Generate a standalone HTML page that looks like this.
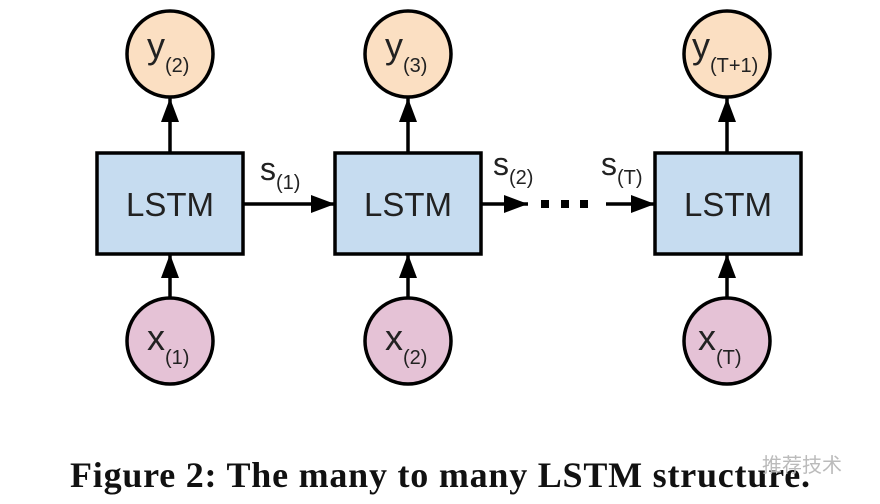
<!DOCTYPE html>
<html><head><meta charset="utf-8"><style>
html,body{margin:0;padding:0;background:#fff;width:880px;height:504px;overflow:hidden}
</style></head><body>
<svg width="880" height="504" viewBox="0 0 880 504" xmlns="http://www.w3.org/2000/svg">
<defs><marker id="a" markerWidth="10" markerHeight="10" refX="9" refY="5" orient="auto" markerUnits="userSpaceOnUse"><path d="M0,0 L10,5 L0,10 Z" fill="#000"/></marker>
<marker id="b" viewBox="0 0 10 10" markerWidth="24" markerHeight="18" refX="10" refY="5" orient="auto" markerUnits="userSpaceOnUse" preserveAspectRatio="none"><path d="M0,0 L10,5 L0,10 Z" fill="#000"/></marker></defs>
<g font-family="Liberation Sans, sans-serif" fill="#222">
<!-- vertical arrows -->
<g stroke="#000" stroke-width="3.5">
<line x1="170" y1="298" x2="170" y2="254" marker-end="url(#b)"/>
<line x1="408" y1="298" x2="408" y2="254" marker-end="url(#b)"/>
<line x1="727" y1="298" x2="727" y2="254" marker-end="url(#b)"/>
<line x1="170" y1="153" x2="170" y2="98" marker-end="url(#b)"/>
<line x1="408" y1="153" x2="408" y2="98" marker-end="url(#b)"/>
<line x1="727" y1="153" x2="727" y2="98" marker-end="url(#b)"/>
<line x1="243" y1="204" x2="335" y2="204" marker-end="url(#b)"/>
<line x1="481" y1="204" x2="528" y2="204" marker-end="url(#b)"/>
<line x1="606" y1="204" x2="655" y2="204" marker-end="url(#b)"/>
</g>
<rect x="541" y="200" width="8" height="8" fill="#000"/>
<rect x="561" y="200" width="8" height="8" fill="#000"/>
<rect x="580" y="200" width="8" height="8" fill="#000"/>
<g fill="#c6dcf0" stroke="#000" stroke-width="3.5">
<rect x="97" y="153" width="146" height="101"/>
<rect x="335" y="153" width="146" height="101"/>
<rect x="655" y="153" width="146" height="101"/>
</g>
<g fill="#fbdfc2" stroke="#000" stroke-width="3.5">
<circle cx="170" cy="54" r="43"/><circle cx="408" cy="54" r="43"/><circle cx="727" cy="54" r="43"/>
</g>
<g fill="#e5c2d6" stroke="#000" stroke-width="3.5">
<circle cx="170" cy="341" r="43"/><circle cx="408" cy="341" r="43"/><circle cx="727" cy="341" r="43"/>
</g>
<g font-size="33" text-anchor="middle"><text x="170" y="216">LSTM</text><text x="408" y="216">LSTM</text><text x="728" y="216">LSTM</text></g>
<g font-size="36">
<text x="147" y="58">y<tspan font-size="20" dy="14">(2)</tspan></text>
<text x="385" y="58">y<tspan font-size="20" dy="14">(3)</tspan></text>
<text x="692" y="58">y<tspan font-size="20" dy="14">(T+1)</tspan></text>
<text x="147" y="350">x<tspan font-size="20" dy="14">(1)</tspan></text>
<text x="385" y="350">x<tspan font-size="20" dy="14">(2)</tspan></text>
<text x="698" y="350">x<tspan font-size="20" dy="14">(T)</tspan></text>
<text x="260" y="180" font-size="32">s<tspan font-size="20" dy="9">(1)</tspan></text>
<text x="493" y="175" font-size="32">s<tspan font-size="20" dy="9">(2)</tspan></text>
<text x="601" y="175" font-size="32">s<tspan font-size="20" dy="9">(T)</tspan></text>
</g>
</g>
<text x="440" y="487" text-anchor="middle" font-family="Liberation Serif, serif" font-weight="bold" font-size="36" fill="#111" textLength="740">Figure 2: The many to many LSTM structure.</text>
<text x="762" y="472" font-family="Liberation Sans, 'Noto Sans CJK SC', sans-serif" font-size="20" fill="#bbb">推荐技术</text>
</svg>
</body></html>
